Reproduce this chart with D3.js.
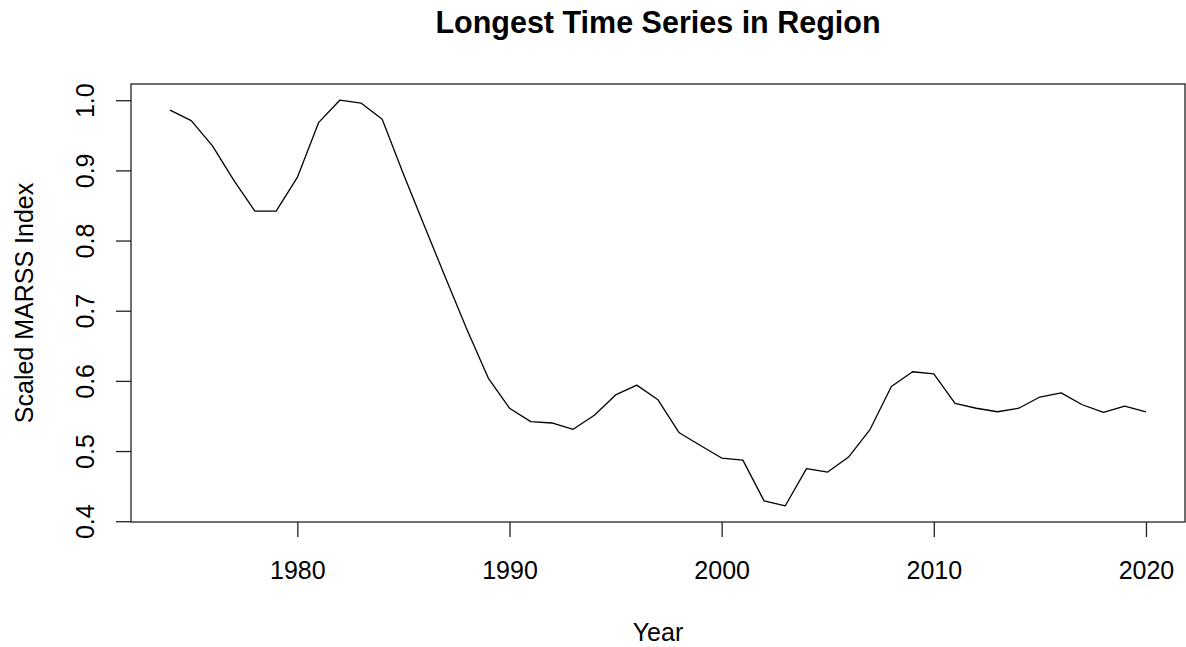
<!DOCTYPE html>
<html>
<head>
<meta charset="utf-8">
<script src="https://cdn.jsdelivr.net/npm/d3@7"></script>
<style>
  html, body { margin: 0; padding: 0; background: #fff; }
  svg { display: block; }
  text { font-family: "Liberation Sans", Arial, sans-serif; fill: #000; }
</style>
</head>
<body>
<svg id="chart" width="1186" height="647"></svg>
<script>
const years = [1974,1975,1976,1977,1978,1979,1980,1981,1982,1983,1984,1985,1986,1987,1988,1989,1990,1991,1992,1993,1994,1995,1996,1997,1998,1999,2000,2001,2002,2003,2004,2005,2006,2007,2008,2009,2010,2011,2012,2013,2014,2015,2016,2017,2018,2019,2020];
const values = [0.986,0.971,0.935,0.886,0.842,0.842,0.890,0.968,1.000,0.996,0.973,0.895,0.820,0.746,0.673,0.604,0.561,0.542,0.540,0.531,0.551,0.580,0.594,0.573,0.526,0.508,0.490,0.487,0.429,0.422,0.475,0.470,0.492,0.531,0.592,0.613,0.610,0.568,0.561,0.556,0.561,0.577,0.583,0.566,0.555,0.564,0.556];
const xTicks = [1980,1990,2000,2010,2020];
const yTicks = [0.4,0.5,0.6,0.7,0.8,0.9,1.0];
const title = "Longest Time Series in Region";
const xLabel = "Year";
const yLabel = "Scaled MARSS Index";

const box = {left: 131, right: 1185, top: 84, bottom: 522};
const svg = d3.select("#chart");

function padded(ext) { const r = ext[1] - ext[0]; return [ext[0] - 0.04 * r, ext[1] + 0.04 * r]; }
const x = d3.scaleLinear().domain(padded(d3.extent(years))).range([box.left, box.right]);
const y = d3.scaleLinear().domain(padded(d3.extent(values))).range([box.bottom, box.top]);

// data line
const line = d3.line().x((d, i) => x(years[i])).y(d => y(d));
svg.append("path").datum(values)
  .attr("d", line)
  .attr("fill", "none")
  .attr("stroke", "#000")
  .attr("stroke-width", 1.3)
  .attr("stroke-linejoin", "round");

// box
svg.append("rect")
  .attr("x", box.left).attr("y", box.top)
  .attr("width", box.right - box.left).attr("height", box.bottom - box.top)
  .attr("fill", "none").attr("stroke", "#222").attr("stroke-width", 1.3);

// x axis
const xAxis = d3.axisBottom(x).tickValues(xTicks).tickSize(15).tickPadding(24).tickFormat(d3.format("d"));
const gx = svg.append("g").attr("transform", `translate(0,${box.bottom})`).call(xAxis);
gx.select(".domain").remove();
gx.selectAll(".tick line").attr("stroke", "#222").attr("stroke-width", 1.3);
gx.selectAll(".tick text").attr("font-size", 25).attr("font-family", "Liberation Sans, Arial, sans-serif").attr("fill", "#000");

// y axis
const yAxis = d3.axisLeft(y).tickValues(yTicks).tickSize(15).tickFormat(d3.format(".1f"));
const gy = svg.append("g").attr("transform", `translate(${box.left},0)`).call(yAxis);
gy.select(".domain").remove();
gy.selectAll(".tick line").attr("stroke", "#222").attr("stroke-width", 1.3);
gy.selectAll(".tick text")
  .attr("font-size", 25).attr("font-family", "Liberation Sans, Arial, sans-serif").attr("fill", "#000")
  .attr("x", null).attr("dy", null)
  .attr("text-anchor", "middle")
  .attr("transform", "translate(-37,0) rotate(-90)");

// title
svg.append("text").attr("x", (box.left + box.right) / 2).attr("y", 33)
  .attr("text-anchor", "middle").attr("font-size", 30.5).attr("font-weight", "bold")
  .text(title);

// x label
svg.append("text").attr("x", (box.left + box.right) / 2).attr("y", 641)
  .attr("text-anchor", "middle").attr("font-size", 25).text(xLabel);

// y label
svg.append("text")
  .attr("transform", `translate(33,${(box.top + box.bottom) / 2}) rotate(-90)`)
  .attr("text-anchor", "middle").attr("font-size", 25).text(yLabel);
</script>
</body>
</html>
